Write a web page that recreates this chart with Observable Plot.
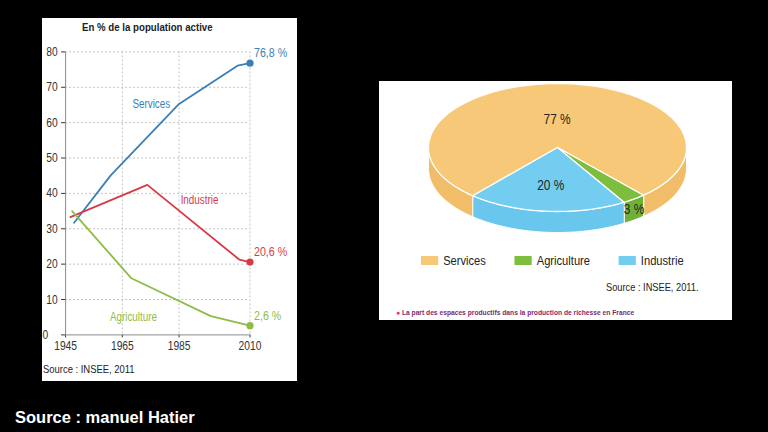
<!DOCTYPE html>
<html>
<head>
<meta charset="utf-8">
<script src="https://cdn.jsdelivr.net/npm/d3@7"></script>
<script src="https://cdn.jsdelivr.net/npm/@observablehq/plot@0.6"></script>
<style>
html,body{margin:0;padding:0;background:#000;width:768px;height:432px;overflow:hidden;}
.sans{font-family:"Liberation Sans",Arial,sans-serif;}
.panel{position:absolute;background:#fff;}
#left{left:42px;top:18px;width:255px;height:363px;}
#right{left:379px;top:81px;width:353px;height:239px;}
.abs{position:absolute;white-space:nowrap;line-height:1;}
.cond{transform:scaleX(0.82);transform-origin:0 0;}
#ltitle{left:40px;top:4px;font-size:11.8px;font-weight:bold;color:#222;}
#lchart{left:0;top:22px;}
#lsource{left:0.5px;top:346px;font-size:11.5px;color:#222;}
#pie{left:0;top:0;}
#legend{left:42px;top:173px;width:420px;}
#rsource{left:227px;top:201px;font-size:11.3px;color:#222;}
#caption{left:17px;top:229px;font-size:6.7px;font-weight:bold;color:#7b2d6e;}
#caption .b{color:#e0306b;}
#hatier{position:absolute;left:15px;top:409px;font-family:"Liberation Sans",Arial,sans-serif;font-weight:bold;font-size:16.5px;color:#fff;line-height:1;white-space:nowrap;}
.pl-swatches{min-height:0 !important;margin:0 !important;font-size:13.6px !important;line-height:13px;color:#222;font-family:"Liberation Sans",Arial,sans-serif !important;flex-wrap:nowrap !important;}
.pl-swatch{margin-right:35px !important;}
.pl-swatch > svg{margin-right:6px !important;}
</style>
</head>
<body>
<div id="left" class="panel sans">
  <div id="ltitle" class="abs cond">En % de la population active</div>
  <div id="lchart" class="abs"></div>
  <div id="lsource" class="abs cond">Source : INSEE, 2011</div>
</div>
<div id="right" class="panel sans">
  <div id="pie" class="abs"></div>
  <div id="legend" class="abs cond"></div>
  <div id="rsource" class="abs cond">Source : INSEE, 2011.</div>
  <div id="caption" class="abs"><span class="b">●</span> La part des espaces productifs dans la production de richesse en France</div>
</div>
<div id="hatier">Source : manuel Hatier</div>
<script>
// ---------- Line chart data ----------
const seriesNames = ["Services", "Industrie", "Agriculture"];
const seriesColors = ["#3b7fb7", "#d83a45", "#8fbc45"];
const servicesYears = [1948, 1960.9, 1985, 2005.6, 2010];
const servicesValues = [31.7, 45.1, 65.3, 76.1, 76.8];
const industrieYears = [1946.7, 1973.8, 2006.2, 2010];
const industrieValues = [33.3, 42.4, 21.3, 20.6];
const agricultureYears = [1947.3, 1968.2, 1996.2, 2010];
const agricultureValues = [35.0, 16.0, 5.3, 2.6];
const xTicks = [1945, 1965, 1985, 2010];
const yTicks = [0, 10, 20, 30, 40, 50, 60, 70, 80];
const gridYears = [1965, 1985, 2010];
// in-chart series labels (data coordinates)
const labelYears = [1975.2, 1992.2, 1968.9];
const labelValues = [65.3, 38.0, 5.0];

// ---------- Pie chart data ----------
const pieCategories = ["Services", "Agriculture", "Industrie"];
const pieShares = [77, 3, 20];
const pieLabels = ["77 %", "3 %", "20 %"];
const pieColors = ["#f7c878", "#7dbe3f", "#72cdf1"];
const pieSideColors = ["#f1bd68", "#6fb136", "#69c6ec"];

const FONT = '"Liberation Sans",Arial,sans-serif';
const CONDENSE = 0.82;
function condense(svg) {
  svg.querySelectorAll("text").forEach(t => {
    const L = t.getComputedTextLength();
    if (L > 0) {
      t.setAttribute("textLength", (L * CONDENSE).toFixed(2));
      t.setAttribute("lengthAdjust", "spacingAndGlyphs");
    }
  });
}

// ---------- Line chart ----------
const yearsBy = [servicesYears, industrieYears, agricultureYears];
const valuesBy = [servicesValues, industrieValues, agricultureValues];
const rows = [];
seriesNames.forEach((s, i) => yearsBy[i].forEach((y, j) => rows.push({series: s, year: y, value: valuesBy[i][j]})));
const lastRows = seriesNames.map((s, i) => ({series: s, year: yearsBy[i].at(-1), value: valuesBy[i].at(-1)}));
const nameRows = seriesNames.map((s, i) => ({series: s, year: labelYears[i], value: labelValues[i]}));
const frFmt = v => v.toFixed(1).replace(".", ",") + " %";

const line = Plot.plot({
  width: 255, height: 318,
  marginTop: 11.4, marginBottom: 23.6, marginLeft: 23.1, marginRight: 47.5,
  style: {fontFamily: FONT, fontSize: "12.5px", color: "#333", background: "transparent", overflow: "visible"},
  x: {domain: [1945, 2010], ticks: xTicks, tickFormat: d => String(d), label: null, tickSize: 3, tickPadding: 3},
  y: {domain: [0, 80], ticks: yTicks, tickFormat: d => (d === 0 ? "" : String(d)), label: null, tickSize: 4, tickPadding: 4},
  color: {domain: seriesNames, range: seriesColors},
  marks: [
    Plot.ruleY(yTicks.filter(v => v > 0), {stroke: "#c4c4c4", strokeDasharray: "2,2"}),
    Plot.ruleX(gridYears, {stroke: "#c4c4c4", strokeDasharray: "2,2"}),
    Plot.ruleX([xTicks[0]], {stroke: "#8a8a8a"}),
    Plot.ruleY([0], {stroke: "#8a8a8a"}),
    Plot.text([yTicks[0]], {x: () => xTicks[0], y: d => d, text: d => String(d), dx: -23, textAnchor: "start", fill: "#333", fontSize: 12.5}),
    Plot.line(rows, {x: "year", y: "value", z: "series", stroke: "series", strokeWidth: 1.8}),
    Plot.dot(lastRows, {x: "year", y: "value", fill: "series", r: 3.6}),
    Plot.text(lastRows, {x: "year", y: "value", text: d => frFmt(d.value), fill: "series", dx: 4, dy: -10, textAnchor: "start", fontSize: 13}),
    Plot.text(nameRows, {x: "year", y: "value", text: "series", fill: "series", fontSize: 12})
  ]
});
document.getElementById("lchart").append(line);
condense(line);

// ---------- 3D pie chart ----------
const startAngle = 131;      // degrees, screen orientation (y down)
const depth = 21 / 64;       // side thickness, in units of the vertical radius
const labelRadius = [0.44, 1.0, 0.6];
const labelDrop = [0, 0.5, 0];
const total = d3.sum(pieShares);
const rad = a => a * Math.PI / 180;
function arc(a0, a1, dy) {
  const n = Math.max(2, Math.ceil(Math.abs(a1 - a0)));
  return d3.range(n + 1).map(k => {
    const t = rad(a0 + (a1 - a0) * k / n);
    return {x: Math.cos(t), y: Math.sin(t) + dy};
  });
}
const slices = [];
let acc = startAngle;
pieShares.forEach((v, i) => {
  const a0 = acc, a1 = acc + v / total * 360;
  acc = a1;
  slices.push({i, a0, a1});
});
const sideMarks = [], topMarks = [];
slices.forEach(({i, a0, a1}) => {
  for (let k = 0; k < 3; k++) {
    const s = Math.max(a0, k * 360), e = Math.min(a1, k * 360 + 180);
    if (e > s) {
      const poly = arc(s, e, 0).concat(arc(e, s, depth));
      sideMarks.push(Plot.line(poly, {x: "x", y: "y", fill: pieSideColors[i], stroke: "#fff", strokeWidth: 1, curve: "linear-closed"}));
    }
  }
  const top = [{x: 0, y: 0}].concat(arc(a0, a1, 0));
  topMarks.push(Plot.line(top, {x: "x", y: "y", fill: pieColors[i], stroke: "#fff", strokeWidth: 1.3, curve: "linear-closed"}));
});
const pieText = slices.map(({i, a0, a1}) => {
  const m = rad((a0 + a1) / 2);
  return {x: labelRadius[i] * Math.cos(m), y: labelRadius[i] * Math.sin(m) + labelDrop[i] * depth, label: pieLabels[i]};
});
const pie = Plot.plot({
  width: 353, height: 160, margin: 0,
  style: {fontFamily: FONT, background: "transparent", overflow: "visible"},
  x: {domain: [-1, 1], range: [49, 307], axis: null},
  y: {domain: [-1, 1], range: [2, 130], axis: null},
  marks: [
    ...sideMarks,
    ...topMarks,
    Plot.text(pieText, {x: "x", y: "y", text: "label", fill: "#262626", fontSize: 14.5})
  ]
});
document.getElementById("pie").append(pie);
condense(pie);

const legend = Plot.legend({
  color: {type: "ordinal", domain: pieCategories, range: pieColors},
  className: "pl", swatchWidth: 21, swatchHeight: 9
});
document.getElementById("legend").append(legend);
</script>
</body>
</html>
